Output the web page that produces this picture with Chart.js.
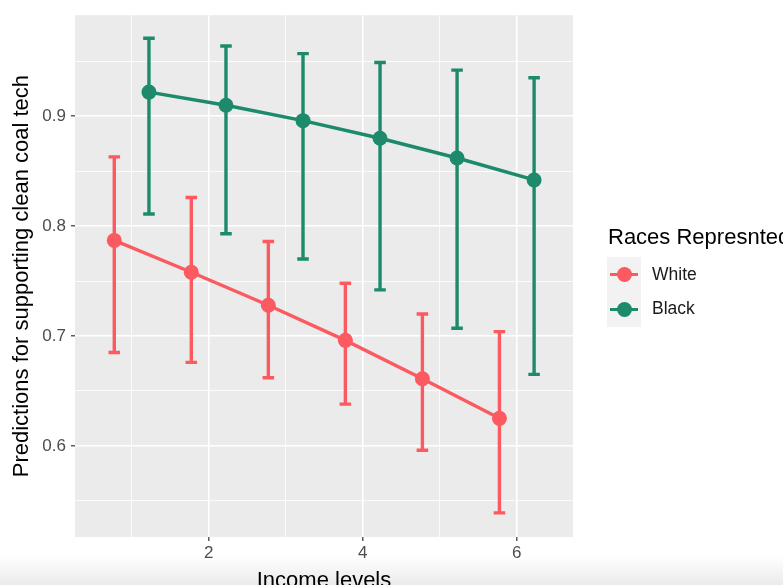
<!DOCTYPE html>
<html>
<head>
<meta charset="utf-8">
<script src="https://cdn.jsdelivr.net/npm/chart.js@4.4.1/dist/chart.umd.min.js"></script>
<style>
  html, body { margin: 0; padding: 0; background: #fff; overflow: hidden; }
  #wrap { position: relative; width: 783px; height: 585px; overflow: hidden; font-family: "Liberation Sans", Arial, sans-serif; }
  #shade { position: absolute; left: 0; top: 556px; width: 783px; height: 29px;
           background: linear-gradient(to bottom, rgba(255,255,255,0), #ebebeb); }
  canvas { position: absolute; left: 0; top: 0; }
  .legend-title { position: absolute; left: 608px; top: 226px; font-size: 22px; line-height: 1; color: #000; white-space: nowrap; }
  .key { position: absolute; left: 607px; width: 34px; height: 35px; background: #f2f2f2; }
  .key .ln { position: absolute; left: 3px; top: 15.5px; width: 28px; height: 3.5px; }
  .key .dt { position: absolute; left: 9.5px; top: 10px; width: 15px; height: 15px; border-radius: 50%; }
  .lab { position: absolute; left: 652px; font-size: 17.5px; line-height: 1; color: #1a1a1a; }
</style>
</head>
<body>
<div id="wrap">
  <div id="shade"></div>
  <canvas id="chart" width="783" height="585"></canvas>
  <div class="legend-title">Races Represnted</div>
  <div class="key" style="top:257px"><div class="ln" style="background:#fb5a60"></div><div class="dt" style="background:#fb5a60"></div></div>
  <div class="key" style="top:292px"><div class="ln" style="background:#1d8a6c"></div><div class="dt" style="background:#1d8a6c"></div></div>
  <div class="lab" style="top:266px">White</div>
  <div class="lab" style="top:300px">Black</div>
</div>
<script>
// data
const incomeLevels = [1, 2, 3, 4, 5, 6];
const whiteMean  = [0.787, 0.758, 0.728, 0.696, 0.661, 0.625];
const whiteLower = [0.685, 0.676, 0.662, 0.638, 0.596, 0.539];
const whiteUpper = [0.863, 0.826, 0.786, 0.748, 0.720, 0.704];
const blackMean  = [0.922, 0.910, 0.896, 0.880, 0.862, 0.842];
const blackLower = [0.811, 0.793, 0.770, 0.742, 0.707, 0.665];
const blackUpper = [0.971, 0.964, 0.957, 0.949, 0.942, 0.935];
const yMajor = [0.6, 0.7, 0.8, 0.9];
const yMinor = [0.55, 0.65, 0.75, 0.85, 0.95];
const xMajor = [2, 4, 6];
const xMinor = [1, 3, 5];

const dodge = 0.225;
const capHalf = 0.075;
const RED = '#fb5a60';
const GREEN = '#1d8a6c';

const toPoints = (means, lower, upper, shift) =>
    incomeLevels.map((lvl, i) => ({ x: lvl + shift, y: means[i], lo: lower[i], hi: upper[i] }));

const panelBg = {
    id: 'panelBg',
    beforeDraw(chart) {
        const { ctx, chartArea: a } = chart;
        ctx.save();
        ctx.fillStyle = '#ebebeb';
        ctx.fillRect(a.left, a.top, a.right - a.left, a.bottom - a.top);
        ctx.restore();
    }
};

// vertical error bars with caps, drawn under lines and points
const errorBars = {
    id: 'errorBars',
    beforeDatasetsDraw(chart) {
        const { ctx, scales: { x, y }, chartArea: a } = chart;
        ctx.save();
        ctx.beginPath();
        ctx.rect(a.left, a.top, a.right - a.left, a.bottom - a.top);
        ctx.clip();
        chart.data.datasets.forEach(ds => {
            ctx.strokeStyle = ds.borderColor;
            ctx.lineWidth = 3.4;
            ctx.lineCap = 'butt';
            ds.data.forEach(p => {
                const px = x.getPixelForValue(p.x);
                const l = x.getPixelForValue(p.x - capHalf);
                const r = x.getPixelForValue(p.x + capHalf);
                const top = y.getPixelForValue(p.hi);
                const bot = y.getPixelForValue(p.lo);
                ctx.beginPath();
                ctx.moveTo(px, top); ctx.lineTo(px, bot);
                ctx.moveTo(l, top); ctx.lineTo(r, top);
                ctx.moveTo(l, bot); ctx.lineTo(r, bot);
                ctx.stroke();
            });
        });
        ctx.restore();
    }
};

const isMajor = (list, v) => list.some(m => Math.abs(m - v) < 1e-6);

new Chart(document.getElementById('chart'), {
    type: 'line',
    data: {
        datasets: [
            {
                label: 'White',
                data: toPoints(whiteMean, whiteLower, whiteUpper, -dodge),
                borderColor: RED,
                backgroundColor: RED,
                borderWidth: 3.4,
                pointRadius: 7.5,
                pointBorderWidth: 0,
                tension: 0
            },
            {
                label: 'Black',
                data: toPoints(blackMean, blackLower, blackUpper, dodge),
                borderColor: GREEN,
                backgroundColor: GREEN,
                borderWidth: 3.4,
                pointRadius: 7.5,
                pointBorderWidth: 0,
                tension: 0
            }
        ]
    },
    options: {
        responsive: false,
        animation: false,
        layout: { padding: { left: 0, right: 210, top: 15, bottom: 0 } },
        plugins: { legend: { display: false }, tooltip: { enabled: false } },
        scales: {
            x: {
                type: 'linear',
                min: 0.265,
                max: 6.73,
                afterFit(s) { s.height = 48; },
                afterBuildTicks(s) {
                    s.ticks = [...xMinor, ...xMajor].sort((a, b) => a - b).map(v => ({ value: v }));
                },
                border: { display: false },
                grid: {
                    color: '#ffffff',
                    lineWidth: c => isMajor(xMajor, c.tick.value) ? 1.6 : 0.8,
                    tickColor: c => isMajor(xMajor, c.tick.value) ? '#333333' : 'rgba(0,0,0,0)',
                    tickLength: 4,
                    tickWidth: 1.2
                },
                ticks: {
                    autoSkip: false,
                    maxRotation: 0,
                    padding: 2,
                    color: '#4d4d4d',
                    font: { family: 'Liberation Sans', size: 17 },
                    callback: v => isMajor(xMajor, v) ? String(v) : ''
                },
                title: {
                    display: true,
                    text: 'Income levels',
                    color: '#000000',
                    font: { family: 'Liberation Sans', size: 22, lineHeight: 0.4 },
                    padding: { top: 0, bottom: 0 }
                }
            },
            y: {
                min: 0.517,
                max: 0.992,
                afterFit(s) { s.width = 75; },
                afterBuildTicks(s) {
                    s.ticks = [...yMinor, ...yMajor].sort((a, b) => a - b).map(v => ({ value: v }));
                },
                border: { display: false },
                grid: {
                    color: '#ffffff',
                    lineWidth: c => isMajor(yMajor, c.tick.value) ? 1.6 : 0.8,
                    tickColor: c => isMajor(yMajor, c.tick.value) ? '#333333' : 'rgba(0,0,0,0)',
                    tickLength: 4,
                    tickWidth: 1.2
                },
                ticks: {
                    autoSkip: false,
                    padding: 5,
                    color: '#4d4d4d',
                    font: { family: 'Liberation Sans', size: 17 },
                    callback: v => isMajor(yMajor, v) ? v.toFixed(1) : ''
                },
                title: {
                    display: true,
                    text: 'Predictions for supporting clean coal tech',
                    color: '#000000',
                    font: { family: 'Liberation Sans', size: 22, lineHeight: 1.2 },
                    padding: { top: 9, bottom: 0 }
                }
            }
        }
    },
    plugins: [panelBg, errorBars]
});
</script>
</body>
</html>
